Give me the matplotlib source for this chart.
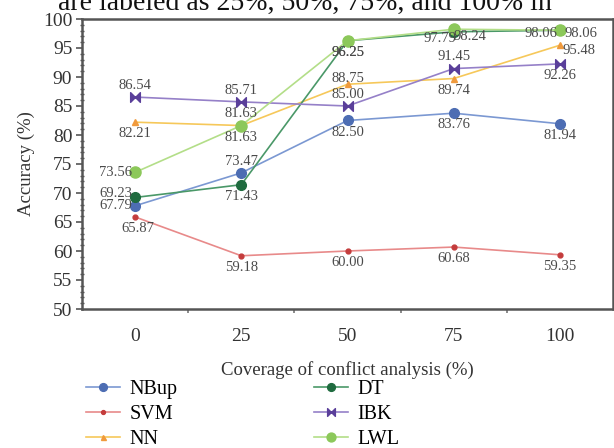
import matplotlib
matplotlib.use("Agg")
import matplotlib.pyplot as plt
from matplotlib.path import Path
from matplotlib.ticker import MultipleLocator, FixedLocator

# ---- data ----
coverage = ["0", "25", "50", "75", "100"]
nbup = [67.79, 73.47, 82.50, 83.76, 81.94]
svm = [65.87, 59.18, 60.00, 60.68, 59.35]
nn = [82.21, 81.63, 88.75, 89.74, 95.48]
dt = [69.23, 71.43, 96.25, 97.79, 98.06]
ibk = [86.54, 85.71, 85.00, 91.45, 92.26]
lwl = [73.56, 81.63, 96.25, 98.24, 98.06]
series_names = ["NBup", "SVM", "NN", "DT", "IBK", "LWL"]
y_ticks = [50, 55, 60, 65, 70, 75, 80, 85, 90, 95, 100]

plt.rcParams['font.family'] = ['Liberation Serif', 'DejaVu Serif']

fig = plt.figure(figsize=(6.14, 4.48), dpi=100)
ax = fig.add_axes([82/614, 1-309/448, (613-82)/614, 290/448])

bowtie = Path([(-1, -1), (0, 0), (-1, 1), (-1, -1), (1, 1), (0, 0), (1, -1), (1, 1)],
              [Path.MOVETO, Path.LINETO, Path.LINETO, Path.CLOSEPOLY,
               Path.MOVETO, Path.LINETO, Path.LINETO, Path.CLOSEPOLY])

styles = {
    "NBup": dict(color='#7b98d2', mfc='#4d6db3', mec='#4d6db3', marker='o', ms=7),
    "SVM": dict(color='#e88a8a', mfc='#c43c3c', mec='#c43c3c', marker='o', ms=3.5),
    "NN": dict(color='#f6c85a', mfc='#f09a3c', mec='#f09a3c', marker='^', ms=4.5),
    "DT": dict(color='#4a9868', mfc='#1f6b3f', mec='#1f6b3f', marker='o', ms=7),
    "IBK": dict(color='#9580c8', mfc='#5a3f9a', mec='#5a3f9a', marker=bowtie, ms=7),
    "LWL": dict(color='#b3de88', mfc='#8cc85a', mec='#8cc85a', marker='o', ms=8),
}
data = {"NBup": nbup, "SVM": svm, "NN": nn, "DT": dt, "IBK": ibk, "LWL": lwl}

x = list(range(len(coverage)))
handles = []
for name in series_names:
    st = styles[name]
    h, = ax.plot(x, data[name], lw=1.2, **st)
    handles.append(h)

# label placement: (ha, dx, dy) in points
A = ('center', 0, 8.5)
B = ('center', 0, -8.5)
placement = {
    "NBup": [('right', -2, 0), A, B, B, B],
    "SVM": [('center', 2, -8.5), B, B, B, B],
    "NN": [B, A, ('center', 0, 4), B, ('left', 2, -4)],
    "DT": [('right', -2, 3), B, B, ('right', 2, -5), ('right', -2, -2)],
    "IBK": [A, A, A, A, B],
    "LWL": [('right', -2, 0), B, B, ('left', 0, -5), ('left', 3, -2)],
}
for name in series_names:
    for i, v in enumerate(data[name]):
        ha, dx, dy = placement[name][i]
        ax.annotate(f"{v:.2f}", (x[i], v), xytext=(dx, dy), textcoords='offset points',
                    ha=ha, va='center', fontsize=10.5, color='#4a4a4a')

ax.set_xlim(-0.5, 4.5)
ax.set_ylim(50, 100)
ax.set_xticks(x)
ax.set_xticklabels(coverage)
ax.xaxis.set_minor_locator(FixedLocator([0.5, 1.5, 2.5, 3.5]))
ax.tick_params(axis='x', which='major', length=0, pad=14, labelsize=14, labelcolor='#333333')
ax.tick_params(axis='x', which='minor', length=3, width=1.2, color='#777777', direction='out')
ax.set_yticks(y_ticks)
ax.yaxis.set_minor_locator(MultipleLocator(1))
ax.tick_params(axis='y', which='major', length=4, width=1.2, direction='out', pad=3,
               labelsize=14, labelcolor='#333333', color='#555555')
ax.tick_params(axis='y', which='minor', length=2.5, width=1, direction='inout', color='#555555')
for s in ax.spines.values():
    s.set_linewidth(1.8)
    s.set_color('#555555')

ax.set_xlabel("Coverage of conflict analysis (%)", fontsize=13.5, color='#333333', labelpad=11)
ax.set_ylabel("Accuracy (%)", fontsize=13.5, color='#333333', labelpad=6)

fig.legend(handles, series_names, ncol=2, loc='upper left',
           bbox_to_anchor=(86/614, 1-380/448), frameon=False, fontsize=14.5,
           handlelength=1.7, handletextpad=0.45, columnspacing=6.8,
           labelspacing=0.28, borderpad=0, borderaxespad=0, markerscale=0.8)

fig.text(305/614, 1-9.5/448, "are labeled as 25%, 50%, 75%, and 100% in",
         ha='center', va='baseline', fontsize=20, color='#111111')

fig.savefig("out.png", dpi=100)
